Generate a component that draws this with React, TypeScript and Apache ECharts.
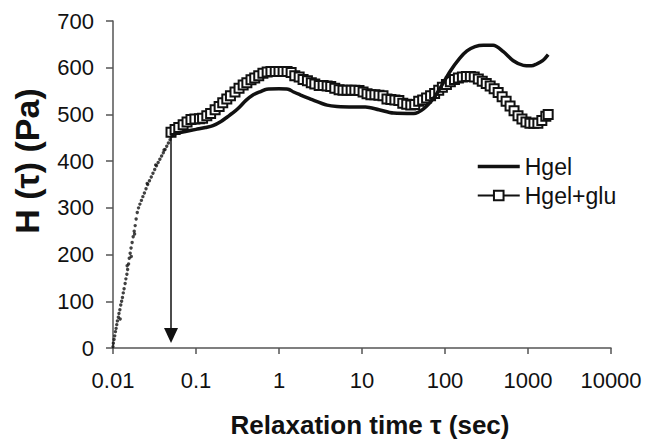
import React, { useEffect, useRef } from "react";
import * as echarts from "echarts";

// ---- data ----
const xTickValues = [0.01, 0.1, 1, 10, 100, 1000, 10000];
const yTickValues = [0, 100, 200, 300, 400, 500, 600, 700];

// early, dotted part of the spectrum (both samples)
const earlyX = [0.01, 0.0101, 0.0103, 0.0105, 0.0107, 0.0109, 0.0111, 0.0113, 0.0116, 0.0118, 0.0121, 0.0124, 0.0127, 0.013, 0.0133, 0.0136, 0.014, 0.0143, 0.0147, 0.015, 0.0154, 0.0157, 0.0161, 0.0165, 0.017, 0.0175, 0.018, 0.0185, 0.019, 0.0196, 0.0203, 0.0211, 0.022, 0.0229, 0.0239, 0.025, 0.0262, 0.0275, 0.0289, 0.0303, 0.0318, 0.0334, 0.035, 0.0367, 0.0385, 0.0404, 0.0424, 0.0444, 0.0465, 0.0487, 0.05, 0.0122, 0.0148, 0.0166, 0.0182, 0.0258, 0.0327, 0.0412];
const earlyY = [3, 10, 18, 26, 35, 42, 50, 58, 66, 74, 82, 92, 100, 108, 118, 127, 138, 148, 158, 168, 180, 192, 203, 214, 226, 238, 250, 262, 276, 290, 300, 308, 316, 324, 332, 341, 350, 358, 366, 374, 382, 390, 397, 404, 411, 418, 425, 432, 439, 446, 452, 62, 176, 196, 244, 352, 392, 424];

// Hgel (solid line)
const hgelX = [0.05, 0.06, 0.077, 0.1, 0.13, 0.16, 0.2, 0.24, 0.3, 0.34, 0.4, 0.49, 0.6, 0.71, 1.0, 1.29, 1.5, 1.8, 2.4, 3.8, 5, 8, 11, 16, 24, 42, 55, 73, 90, 115, 150, 184, 230, 290, 380, 500, 665, 878, 1100, 1270, 1500, 1750];
const hgelY = [455, 460, 464, 468, 472, 476, 485, 495, 508, 517, 530, 542, 549, 554, 555, 554, 548, 542, 533, 520, 517, 516, 516, 510, 503, 502, 512, 535, 560, 592, 620, 636, 645, 648, 648, 635, 615, 605, 604, 608, 615, 628];

// Hgel+glu (open squares)
const gluX = [0.05, 0.056, 0.062, 0.07, 0.078, 0.087, 0.097, 0.11, 0.12, 0.135, 0.15, 0.17, 0.19, 0.21, 0.235, 0.26, 0.295, 0.33, 0.37, 0.41, 0.46, 0.51, 0.57, 0.64, 0.72, 0.8, 0.9, 1.0, 1.12, 1.25, 1.4, 1.55, 1.75, 1.95, 2.2, 2.45, 2.7, 3.05, 3.4, 3.8, 4.2, 4.7, 5.3, 5.9, 6.6, 7.4, 8.2, 9.2, 10.3, 11.5, 12.8, 14.3, 16, 17.9, 20, 22.3, 24.9, 27.8, 31, 34.6, 38.7, 43.2, 48.2, 53.8, 60, 67, 75, 84, 93, 104, 116, 130, 145, 162, 181, 202, 225, 252, 281, 314, 350, 391, 437, 488, 545, 608, 679, 758, 846, 945, 1055, 1178, 1315, 1468, 1640, 1750];
const gluY = [462, 468, 472, 478, 484, 489, 490, 491, 492, 497, 502, 510, 517, 525, 533, 540, 548, 556, 563, 568, 574, 578, 583, 588, 591, 592, 592, 592, 592, 592, 590, 583, 580, 575, 572, 568, 565, 562, 562, 561, 560, 556, 553, 552, 552, 552, 552, 551, 548, 544, 542, 542, 541, 540, 533, 532, 531, 530, 524, 522, 520, 521, 528, 531, 535, 540, 545, 552, 558, 564, 570, 575, 578, 580, 581, 581, 580, 576, 571, 566, 561, 555, 547, 538, 528, 518, 508, 497, 490, 484, 481, 481, 481, 487, 496, 500];

// arrow marking tau = 0.05 s
const arrowX = 0.05;
const arrowTop = 456;
const arrowEnd = 27;

const FONT = "'Liberation Sans', Arial, sans-serif";

const fmt = (v: number) => String(Number(v.toPrecision(6)));

export default function App() {
  const ref = useRef<HTMLDivElement>(null);

  useEffect(() => {
    if (!ref.current) return;
    const chart = echarts.init(ref.current, undefined, { renderer: "svg" });
    const zip = (xs: number[], ys: number[]) => xs.map((x, i) => [x, ys[i]]);

    chart.setOption({
      animation: false,
      backgroundColor: "#fff",
      textStyle: { fontFamily: FONT },
      grid: { left: 113, right: 34, top: 21, bottom: 93 },
      legend: {
        data: [
          { name: "Hgel", itemStyle: { opacity: 0 }, lineStyle: { width: 3.5, color: "#111" } },
          { name: "Hgel+glu" },
        ],
        orient: "vertical",
        left: 471,
        top: 150,
        itemWidth: 42,
        itemHeight: 12,
        itemGap: 6,
        textStyle: { fontSize: 23, color: "#111", fontFamily: FONT },
      },
      xAxis: {
        type: "log",
        logBase: 10,
        min: xTickValues[0],
        max: xTickValues[xTickValues.length - 1],
        splitNumber: xTickValues.length - 1,
        axisLine: { lineStyle: { color: "#555", width: 1.5 } },
        axisTick: { show: true, length: 6, lineStyle: { color: "#555", width: 1.5 } },
        minorTick: { show: false },
        splitLine: { show: false },
        axisLabel: {
          margin: 21,
          fontSize: 22,
          color: "#111",
          fontFamily: FONT,
          formatter: (v: number) => fmt(v),
        },
      },
      yAxis: {
        type: "value",
        min: yTickValues[0],
        max: yTickValues[yTickValues.length - 1],
        interval: 100,
        axisLine: { show: true, lineStyle: { color: "#555", width: 1.5 } },
        axisTick: { show: true, length: 7, lineStyle: { color: "#555", width: 1.5 } },
        splitLine: { show: false },
        axisLabel: { margin: 19, fontSize: 22, color: "#111", fontFamily: FONT },
      },
      graphic: [
        {
          type: "text",
          x: 370,
          y: 425,
          style: {
            text: "Relaxation time τ (sec)",
            font: `bold 26px ${FONT}`,
            fill: "#111",
            align: "center",
            verticalAlign: "middle",
          },
        },
        {
          type: "text",
          x: 27,
          y: 161,
          rotation: Math.PI / 2,
          style: {
            text: "H (τ) (Pa)",
            font: `bold 34px ${FONT}`,
            fill: "#111",
            align: "center",
            verticalAlign: "middle",
          },
        },
      ],
      series: [
        {
          name: "early",
          type: "scatter",
          data: zip(earlyX, earlyY),
          symbol: "circle",
          symbolSize: 3.4,
          itemStyle: { color: "#111" },
          z: 3,
          markLine: {
            silent: true,
            symbol: ["none", "triangle"],
            symbolSize: [14, 15],
            label: { show: false },
            lineStyle: { color: "#111", width: 1.5, type: "solid" },
            data: [[{ coord: [arrowX, arrowTop] }, { coord: [arrowX, arrowEnd] }]],
          },
        },
        {
          name: "Hgel+glu",
          type: "line",
          data: zip(gluX, gluY),
          symbol: "rect",
          symbolSize: 9,
          showSymbol: true,
          lineStyle: { color: "#111", width: 2 },
          itemStyle: { color: "#fff", borderColor: "#111", borderWidth: 2 },
          z: 4,
        },
        {
          name: "Hgel",
          type: "line",
          data: zip(hgelX, hgelY),
          symbol: "none",
          smooth: 0.3,
          lineStyle: { color: "#111", width: 3.5 },
          itemStyle: { color: "#111" },
          z: 5,
        },
      ],
    });
    return () => chart.dispose();
  }, []);

  return (
    <div
      ref={ref}
      style={{ position: "fixed", left: 0, top: 0, width: 645, height: 441, background: "#fff" }}
    />
  );
}
